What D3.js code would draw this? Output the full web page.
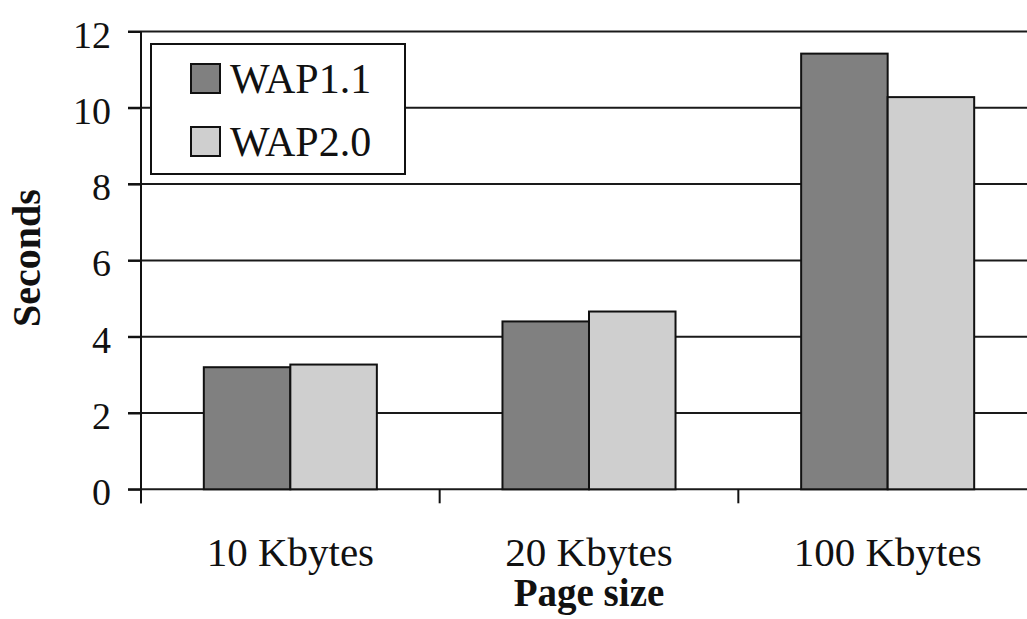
<!DOCTYPE html>
<html>
<head>
<meta charset="utf-8">
<script src="https://cdn.jsdelivr.net/npm/d3@7"></script>
<style>
  html, body { margin: 0; padding: 0; background: #fff; }
  svg { display: block; }
</style>
</head>
<body>
<svg id="chart" width="1027" height="619"></svg>
<script>
// Page download time by page size and protocol version
const categories = ["10 Kbytes", "20 Kbytes", "100 Kbytes"];
const seriesNames = ["WAP1.1", "WAP2.0"];
const wap11 = [3.2, 4.4, 11.42];
const wap20 = [3.27, 4.66, 10.28];
const yTicks = [0, 2, 4, 6, 8, 10, 12];
const seriesColors = ["#808080", "#cfcfcf"];

const FONT = "'Liberation Serif', 'Times New Roman', serif";
const svg = d3.select("#chart");
const W = 1027, H = 619;

const plot = { left: 141, right: 1037, top: 31.5, bottom: 489.3 };

const x0 = d3.scaleBand().domain(categories).range([plot.left, plot.right]).padding(0);
const x1 = d3.scaleBand().domain(seriesNames).range([0, x0.bandwidth()])
  .paddingInner(0).paddingOuter(0.726);
const y = d3.scaleLinear().domain([0, 12]).range([plot.bottom, plot.top]);

const values = { "WAP1.1": wap11, "WAP2.0": wap20 };

// horizontal gridlines (drawn through the tick marks to the right edge)
svg.append("g").selectAll("line").data(yTicks).join("line")
  .attr("x1", plot.left - 13).attr("x2", W)
  .attr("y1", d => y(d)).attr("y2", d => y(d))
  .attr("stroke", "#1a1a1a").attr("stroke-width", 2);

// bars
const groups = svg.append("g").selectAll("g").data(categories).join("g")
  .attr("transform", d => `translate(${x0(d)},0)`);
groups.selectAll("rect")
  .data((c, i) => seriesNames.map((s, k) => ({ s, k, v: values[s][i] })))
  .join("rect")
  .attr("x", d => x1(d.s))
  .attr("width", x1.bandwidth())
  .attr("y", d => y(d.v))
  .attr("height", d => y(0) - y(d.v))
  .attr("fill", d => seriesColors[d.k])
  .attr("stroke", "#111").attr("stroke-width", 2);

// y axis
const yAxis = d3.axisLeft(y).tickValues(yTicks).tickSize(13).tickPadding(17);
const yg = svg.append("g").attr("transform", `translate(${plot.left},0)`).call(yAxis);
yg.select(".domain").remove();
yg.selectAll(".tick line").attr("stroke", "#111").attr("stroke-width", 2);
yg.selectAll(".tick text")
  .style("font-family", FONT).style("font-size", "38px")
  .attr("fill", "#111").attr("dy", "0.41em");
svg.append("line").attr("x1", plot.left).attr("x2", plot.left)
  .attr("y1", y(12)).attr("y2", plot.bottom + 14)
  .attr("stroke", "#111").attr("stroke-width", 2);

// x axis: ticks between categories, labels centred under each group
const boundaries = categories.map(c => x0(c));
svg.append("g").selectAll("line").data(boundaries).join("line")
  .attr("x1", d => d).attr("x2", d => d)
  .attr("y1", plot.bottom).attr("y2", plot.bottom + 14)
  .attr("stroke", "#111").attr("stroke-width", 2);
svg.append("g").selectAll("text").data(categories).join("text")
  .attr("x", d => x0(d) + x0.bandwidth() / 2)
  .attr("y", 566)
  .attr("text-anchor", "middle")
  .attr("fill", "#111")
  .style("font-family", FONT).style("font-size", "41px")
  .text(d => d);

// axis titles
svg.append("text")
  .attr("x", 589).attr("y", 606)
  .attr("text-anchor", "middle")
  .attr("fill", "#111")
  .style("font-family", FONT).style("font-size", "39px").style("font-weight", "bold")
  .text("Page size");
svg.append("text")
  .attr("transform", "translate(40,258) rotate(-90)")
  .attr("text-anchor", "middle")
  .attr("fill", "#111")
  .style("font-family", FONT).style("font-size", "40px").style("font-weight", "bold")
  .text("Seconds");

// legend
const legend = svg.append("g");
legend.append("rect")
  .attr("x", 151).attr("y", 44).attr("width", 254).attr("height", 130)
  .attr("fill", "#fff").attr("stroke", "#111").attr("stroke-width", 2);
const items = legend.selectAll("g").data(seriesNames).join("g")
  .attr("transform", (d, i) => `translate(191,${64 + i * 63})`);
items.append("rect")
  .attr("width", 29).attr("height", 29)
  .attr("fill", (d, i) => seriesColors[i])
  .attr("stroke", "#111").attr("stroke-width", 2);
items.append("text")
  .attr("x", 39).attr("y", 29)
  .attr("fill", "#111")
  .style("font-family", FONT).style("font-size", "42px")
  .text(d => d);
</script>
</body>
</html>
